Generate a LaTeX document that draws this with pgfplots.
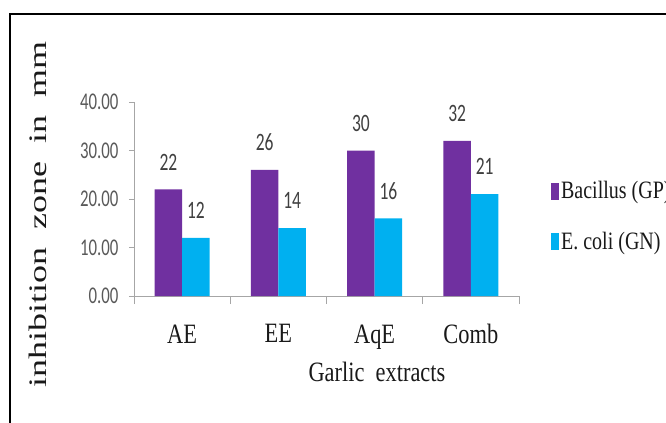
\documentclass[border=0pt]{standalone}
\usepackage{fontspec}
\setmainfont{Liberation Serif}[FakeStretch=0.8]
\newfontfamily\numfont{Carlito}[FakeStretch=0.7]
\newfontfamily\ylfont{Liberation Serif}
\usepackage{graphicx}
\usepackage{pgfplots}
\pgfplotsset{compat=1.18}
\definecolor{bacil}{HTML}{7030A0}
\definecolor{ecoli}{HTML}{00B0F0}
\definecolor{axgray}{HTML}{A6A6A6}
\definecolor{numgray}{HTML}{595959}
\definecolor{lblgray}{HTML}{404040}

\begin{document}
\begin{tikzpicture}
\begin{axis}[
  at={(0,0)}, anchor=south west,
  scale only axis, width=385bp, height=194bp,
  ybar=0pt, bar width=27.5bp,
  xmin=-0.5, xmax=3.5, ymin=0, ymax=40,
  axis x line*=bottom, axis y line*=left,
  axis line style={draw=axgray, line width=0.8bp},
  xtick={0,1,2,3}, xticklabels={AE,EE,AqE,Comb},
  major x tick style={draw=none},
  minor xtick={-0.5,0.5,1.5,2.5,3.5},
  minor x tick style={draw=axgray, line width=0.8bp},
  y tick style={draw=axgray, line width=0.8bp},
  tick align=outside, major tick length=5bp, minor tick length=8bp,
  ytick={0,10,20,30,40},
  /pgf/number format/assume math mode=true,
  yticklabel style={font=\numfont\fontsize{24bp}{24bp}\selectfont, text=numgray, xshift=-7bp,
    /pgf/number format/.cd, fixed, fixed zerofill, precision=2},
  xticklabel style={font=\fontsize{28bp}{28bp}\selectfont, text=black!90, yshift=-20bp},
  nodes near coords,
  every node near coord/.append style={font=\numfont\fontsize{25bp}{25bp}\selectfont,
    text=lblgray, anchor=south, inner sep=0pt, yshift=19bp},
  xlabel={Garlic\ \ extracts},
  xlabel style={at={(axis description cs:0.631,-0.443)}, anchor=base,
    font=\fontsize{28bp}{28bp}\selectfont, text=black!90},
  ylabel={\scalebox{1}[0.7]{\ylfont\fontsize{36bp}{36bp}\selectfont inhibition\ \ zone\ \ in\ \ mm}},
  ylabel style={at={(axis description cs:-0.249,0.418)}, anchor=center, text=black!90},
  legend cell align=left,
  legend style={at={(axis description cs:1.083,0.41)}, anchor=west, draw=none, fill=none,
    inner sep=0pt, row sep=28bp, font=\fontsize{25bp}{25bp}\selectfont, text=black!90},
  legend image code/.code={\fill[#1] (0bp,-8.5bp) rectangle (8bp,8.5bp);},
]
\addplot[fill=bacil, draw=none] coordinates {(0,22) (1,26) (2,30) (3,32)};
\addplot[fill=ecoli, draw=none] coordinates {(0,12) (1,14) (2,16) (3,21)};
\legend{Bacillus (GP), E. coli (GN)}
\end{axis}
\draw[line width=2.2bp] (-124bp,-200bp) -- (-124bp,282bp) -- (600bp,282bp);
\pgfresetboundingbox
\path[use as bounding box] (-134bp,-127bp) rectangle (532bp,296bp);
\end{tikzpicture}
\end{document}
